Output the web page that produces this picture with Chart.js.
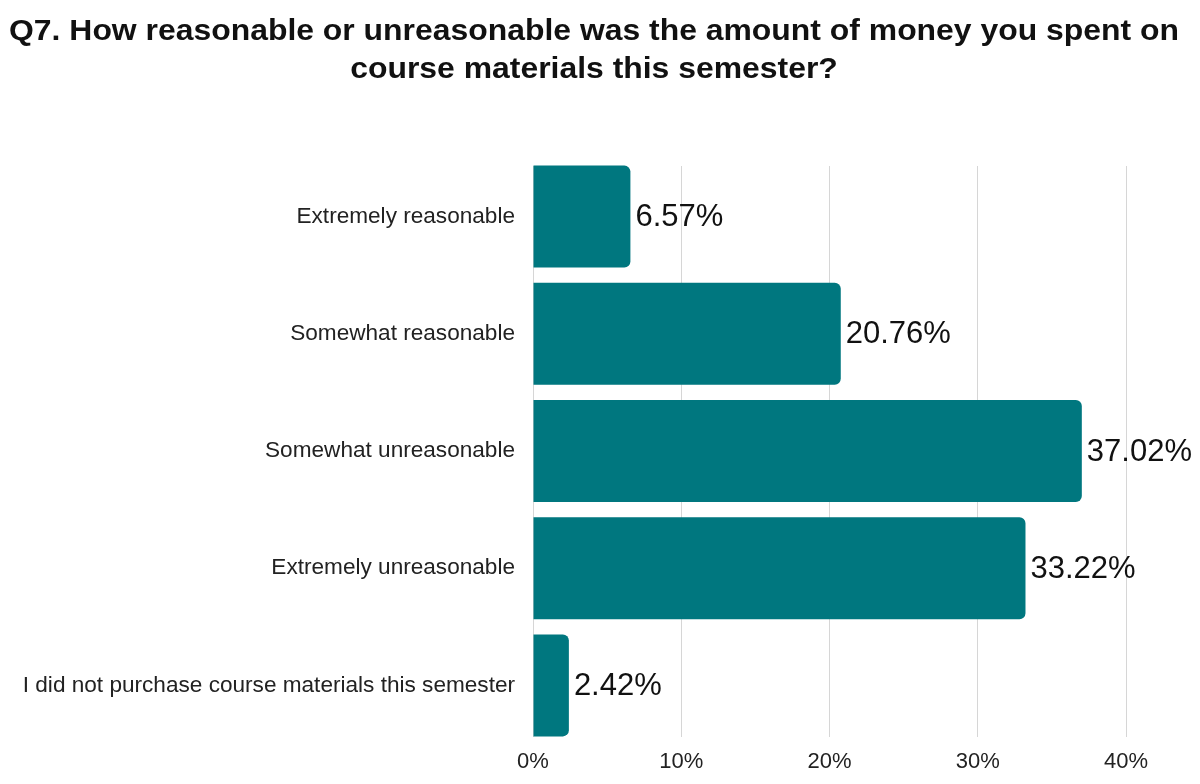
<!DOCTYPE html>
<html>
<head>
<meta charset="utf-8">
<script src="https://cdn.jsdelivr.net/npm/chart.js@4.4.1/dist/chart.umd.min.js"></script>
<style>
  html, body { margin: 0; padding: 0; background: #fff; }
  #wrap { width: 1200px; height: 784px; position: relative; }
  #warm { position: absolute; left: -9999px; top: 0; font-family: 'Liberation Sans'; }
</style>
</head>
<body>
<div id="warm"><span style="font-weight:bold">Warm</span> up 0123456789%</div>
<div id="wrap"><canvas id="c" width="1200" height="784"></canvas></div>
<script>
const titleLines = [
  "Q7. How reasonable or unreasonable was the amount of money you spent on",
  "course materials this semester?"
];
const categories = [
  "Extremely reasonable",
  "Somewhat reasonable",
  "Somewhat unreasonable",
  "Extremely unreasonable",
  "I did not purchase course materials this semester"
];
const percentages = [6.57, 20.76, 37.02, 33.22, 2.42];
const xTicks = [0, 10, 20, 30, 40];

const FONT = "'Liberation Sans', Arial, sans-serif";

const titleDraw = {
  id: 'titleDraw',
  afterDraw(chart) {
    const ctx = chart.ctx;
    const sx = 1.1;
    ctx.save();
    ctx.font = "bold 29px " + FONT;
    ctx.fillStyle = "#111";
    ctx.textAlign = "center";
    ctx.textBaseline = "alphabetic";
    ctx.scale(sx, 1);
    ctx.fillText(titleLines[0], 594 / sx, 40);
    ctx.fillText(titleLines[1], 594 / sx, 78);
    ctx.restore();
  }
};

// trim the vertical grid lines so they span only the bar block
const gridTrim = {
  id: 'gridTrim',
  beforeDatasetsDraw(chart) {
    const a = chart.chartArea;
    const ctx = chart.ctx;
    ctx.save();
    ctx.fillStyle = '#ffffff';
    ctx.fillRect(a.left - 2, a.top - 1, a.right - a.left + 4, 9);
    ctx.fillRect(a.left - 2, a.bottom - 7, a.right - a.left + 4, 8);
    ctx.restore();
  }
};

const valueLabels = {
  id: 'valueLabels',
  afterDatasetsDraw(chart) {
    const ctx = chart.ctx;
    const meta = chart.getDatasetMeta(0);
    ctx.save();
    ctx.font = "31px " + FONT;
    ctx.fillStyle = "#111";
    ctx.textAlign = "left";
    ctx.textBaseline = "middle";
    meta.data.forEach((bar, i) => {
      ctx.fillText(percentages[i].toFixed(2) + "%", bar.x + 5, bar.y + 1);
    });
    ctx.restore();
  }
};

function draw() {
  new Chart(document.getElementById('c'), {
    type: 'bar',
    data: {
      labels: categories,
      datasets: [{
        data: percentages,
        backgroundColor: '#00777F',
        borderRadius: 6,
        borderSkipped: 'start',
        barPercentage: 0.87,
        categoryPercentage: 1.0
      }]
    },
    options: {
      indexAxis: 'y',
      responsive: false,
      animation: false,
      devicePixelRatio: 1,
      layout: { padding: { left: 0, right: 74, top: 158, bottom: 0 } },
      plugins: {
        legend: { display: false },
        tooltip: { enabled: false },
        title: { display: false }
      },
      scales: {
        x: {
          min: 0,
          max: 40,
          afterBuildTicks(scale) { scale.ticks = xTicks.map(v => ({ value: v })); },
          afterFit(scale) { scale.height = 40; },
          grid: { color: '#d6d6d6', lineWidth: 1, drawTicks: false },
          border: { display: false },
          ticks: {
            padding: 5,
            color: '#222',
            font: { family: FONT, size: 22 },
            callback: v => v + '%'
          }
        },
        y: {
          afterFit(scale) { scale.width = 533; },
          grid: { display: false, drawTicks: false },
          border: { display: false },
          ticks: {
            padding: 18,
            color: '#222',
            font: { family: FONT, size: 22.6 }
          }
        }
      }
    },
    plugins: [gridTrim, valueLabels, titleDraw]
  });
}

if (document.fonts && document.fonts.load) {
  Promise.all([
    document.fonts.load("bold 29px 'Liberation Sans'"),
    document.fonts.load("22px 'Liberation Sans'")
  ]).then(draw, draw);
} else {
  draw();
}
</script>
</body>
</html>
